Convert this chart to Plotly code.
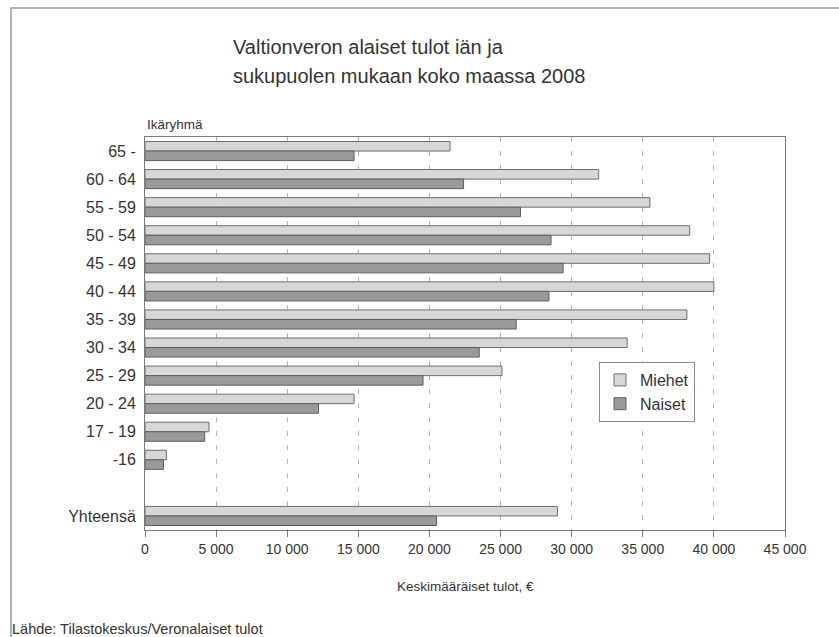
import plotly.graph_objects as go

# ---- data ----
age_groups = ["65 -", "60 - 64", "55 - 59", "50 - 54", "45 - 49", "40 - 44",
              "35 - 39", "30 - 34", "25 - 29", "20 - 24", "17 - 19", "-16"]
men_income = [21450, 31900, 35500, 38300, 39700, 40000,
              38100, 33900, 25100, 14700, 4500, 1500]
women_income = [14700, 22400, 26400, 28550, 29400, 28400,
                26100, 23500, 19550, 12200, 4200, 1300]
total_label = "Yhteensä"
men_total = 29000
women_total = 20500
spacer = " "

x_ticks = [0, 5000, 10000, 15000, 20000, 25000, 30000, 35000, 40000, 45000]

title_line1 = "Valtionveron alaiset tulot iän ja"
title_line2 = "sukupuolen mukaan koko maassa 2008"
y_title = "Ikäryhmä"
x_title = "Keskimääräiset tulot, €"
source = "Lähde: Tilastokeskus/Veronalaiset tulot"

categories = age_groups + [spacer, total_label]
men_x = men_income + [None, men_total]
women_x = women_income + [None, women_total]

FONT = "Liberation Sans, Arial, Helvetica, sans-serif"
TXT = "#333333"

fig = go.Figure()
fig.add_trace(go.Bar(
    name="Miehet", y=categories, x=men_x, orientation="h",
    marker=dict(color="#d7d7d7", line=dict(color="#6e6e6e", width=1)),
))
fig.add_trace(go.Bar(
    name="Naiset", y=categories, x=women_x, orientation="h",
    marker=dict(color="#9a9a9a", line=dict(color="#5e5e5e", width=1)),
))

W, H = 839, 637
L, R, T, B = 145, 54, 137, 107
pw, ph = W - L - R, H - T - B

def px(xp):
    return (xp - L) / pw

def py(yp):
    return (H - B - yp) / ph

fig.update_layout(
    width=W, height=H,
    margin=dict(l=L, r=R, t=T, b=B),
    paper_bgcolor="white", plot_bgcolor="white",
    barmode="group", bargap=0.32, bargroupgap=0,
    separators=", ",
    font=dict(family=FONT, size=15, color=TXT),
    showlegend=True,
    legend=dict(
        x=px(599), y=py(362), xanchor="left", yanchor="top",
        bordercolor="#8a8a8a", borderwidth=1, bgcolor="white",
        font=dict(size=16, color=TXT), itemwidth=30,
        tracegroupgap=0,
    ),
    xaxis=dict(
        range=[0, 45000], tickvals=x_ticks, tickformat=",d",
        showgrid=True, gridcolor="#b5b5b5", griddash="5px,9px", gridwidth=1,
        showline=True, linecolor="#7a7a7a", linewidth=1, mirror=True,
        ticks="outside", ticklen=6, tickcolor="#7a7a7a",
        ticklabelstandoff=0,
        tickfont=dict(size=14, color=TXT), zeroline=False,
    ),
    yaxis=dict(
        categoryorder="array", categoryarray=categories,
        range=[len(categories) - 0.5, -0.5],
        showgrid=False, showline=True, linecolor="#7a7a7a", linewidth=1,
        mirror=True, ticks="", ticklabelstandoff=5,
        tickfont=dict(size=16, color=TXT), zeroline=False,
    ),
    shapes=[dict(
        type="rect", xref="paper", yref="paper",
        x0=px(11), x1=px(880), y0=py(720), y1=py(8),
        line=dict(color="#9a9a9a", width=1.5), fillcolor="rgba(0,0,0,0)",
        layer="below",
    )],
    annotations=[
        dict(text=title_line1, x=px(231), y=py(47), xref="paper", yref="paper",
             xanchor="left", yanchor="middle", showarrow=False,
             font=dict(size=20, color=TXT)),
        dict(text=title_line2, x=px(231), y=py(76), xref="paper", yref="paper",
             xanchor="left", yanchor="middle", showarrow=False,
             font=dict(size=20, color=TXT)),
        dict(text=y_title, x=px(145), y=py(124), xref="paper", yref="paper",
             xanchor="left", yanchor="middle", showarrow=False,
             font=dict(size=13.5, color=TXT)),
        dict(text=x_title, x=0.5, y=py(586), xref="paper", yref="paper",
             xanchor="center", yanchor="middle", showarrow=False,
             font=dict(size=13.5, color=TXT)),
        dict(text=source, x=px(10), y=py(629), xref="paper", yref="paper",
             xanchor="left", yanchor="middle", showarrow=False,
             font=dict(size=14.5, color=TXT)),
    ],
)

fig.write_html("out.html", config={"displayModeBar": False},
               post_script="document.body.style.margin='0';")
